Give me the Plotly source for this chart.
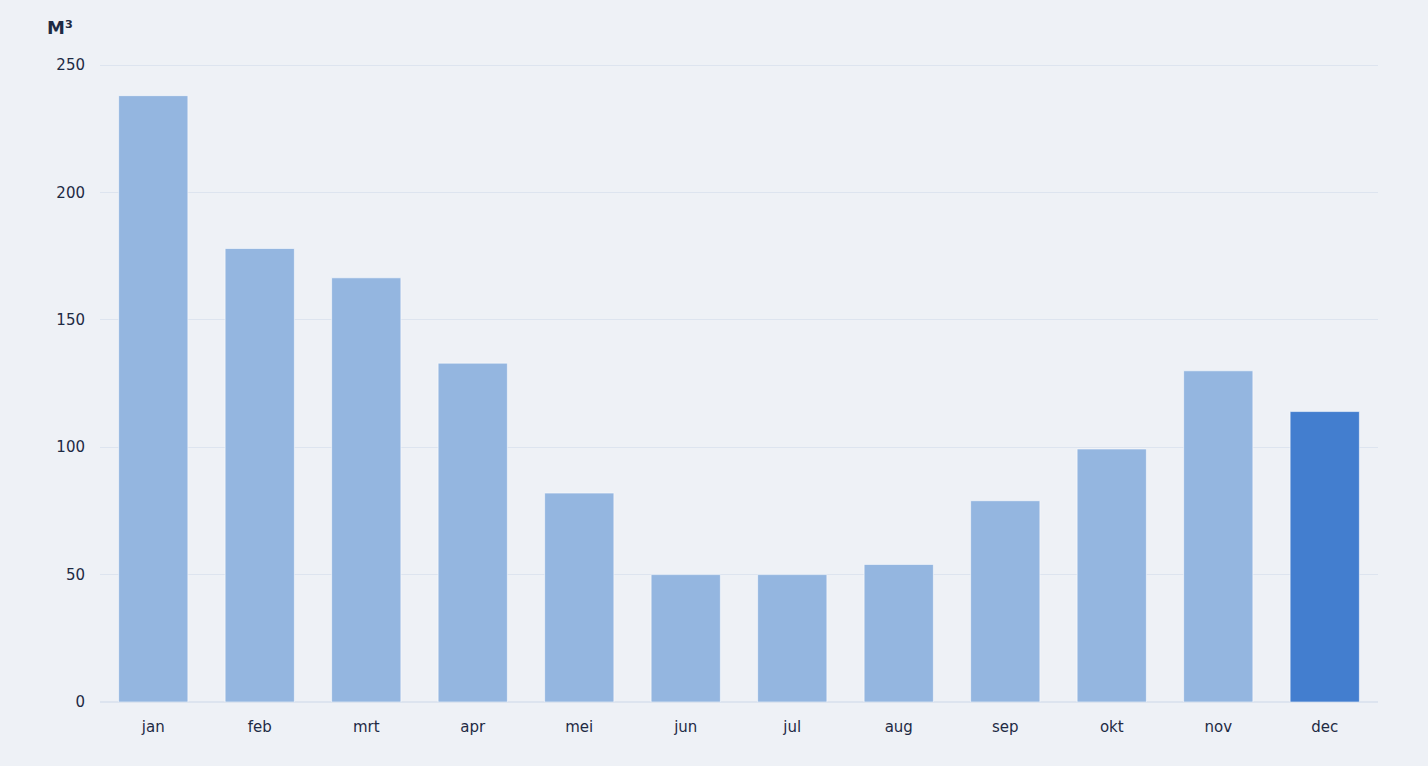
import plotly.graph_objects as go

months = ["jan", "feb", "mrt", "apr", "mei", "jun", "jul", "aug", "sep", "okt", "nov", "dec"]
usage = [238, 178, 166.5, 133, 82, 50, 50, 54, 79, 99.3, 130, 114]
highlight_month = "dec"
y_ticks = [0, 50, 100, 150, 200, 250]

light = "#94b6e0"
dark = "#437ecf"
colors = [dark if m == highlight_month else light for m in months]
text_color = "#1e2a44"

fig = go.Figure(go.Bar(
    x=months, y=usage,
    marker=dict(color=colors, line=dict(color="rgba(255,255,255,0.55)", width=1)),
    hoverinfo="x+y",
))

fig.update_layout(
    width=1428, height=766,
    paper_bgcolor="#eef1f6", plot_bgcolor="#eef1f6",
    margin=dict(l=100, r=50, t=60, b=64),
    bargap=0.35,
    showlegend=False,
    font=dict(family="DejaVu Sans, sans-serif", color=text_color, size=15),
    annotations=[dict(text="<b>M³</b>", xref="x domain", yref="y domain",
                      x=-0.043, y=1.051, xanchor="left", yanchor="middle",
                      showarrow=False, font=dict(size=18, color=text_color))],
)
fig.update_xaxes(showgrid=False, showline=False, ticks="", tickfont=dict(size=15),
                 ticklabelstandoff=14)
fig.update_yaxes(range=[0, 252], tickvals=y_ticks, showgrid=True, gridcolor="#dde4ef",
                 gridwidth=1, zeroline=True, zerolinecolor="#dde4ef", zerolinewidth=2,
                 showline=False, ticks="", tickfont=dict(size=15), ticklabelstandoff=14)

fig.write_html(
    "out.html",
    config={"displayModeBar": False},
    post_script="document.body.style.margin='0';document.body.style.background='#eef1f6';",
)
